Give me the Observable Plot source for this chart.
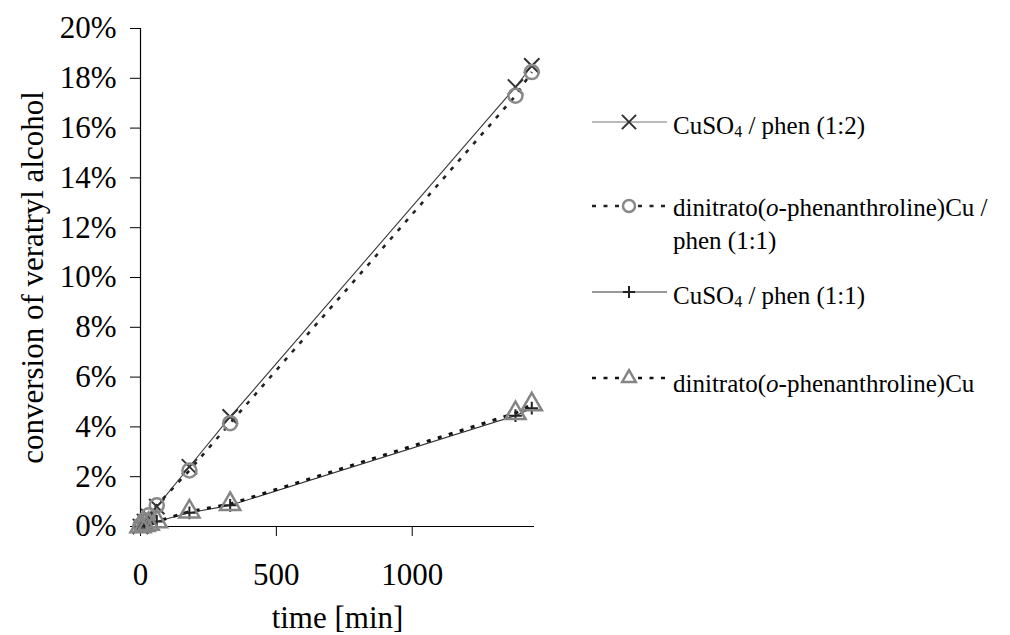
<!DOCTYPE html>
<html>
<head>
<meta charset="utf-8">
<script src="https://cdn.jsdelivr.net/npm/d3@7"></script>
<script src="https://cdn.jsdelivr.net/npm/@observablehq/plot@0.6"></script>
<style>
  html, body { margin: 0; padding: 0; background: #fff; }
  #chart { width: 1010px; height: 635px; }
</style>
</head>
<body>
<div id="chart"></div>
<script>
// ---- data ----
const times = [0, 15, 30, 60, 180, 330, 1380, 1440];           // min
const cuso4Phen12 = [0, 0.2, 0.4, 0.8, 2.4, 4.4, 17.65, 18.5];   // %
const dinitratoPhen11 = [0.05, 0.25, 0.45, 0.85, 2.25, 4.15, 17.3, 18.25];
const cuso4Phen11 = [0, 0.05, 0.1, 0.2, 0.55, 0.85, 4.45, 4.75];
const dinitrato = [0, 0.05, 0.1, 0.2, 0.6, 0.9, 4.55, 4.9];
const seriesNames = [
  "CuSO4 / phen (1:2)",
  "dinitrato(o-phenanthroline)Cu / phen (1:1)",
  "CuSO4 / phen (1:1)",
  "dinitrato(o-phenanthroline)Cu"
];
const xTicks = [0, 500, 1000];
const yTicks = [0, 0.02, 0.04, 0.06, 0.08, 0.10, 0.12, 0.14, 0.16, 0.18, 0.20];
const xTitle = "time [min]";
const yTitle = "conversion of veratryl alcohol";

// ---- styles ----
const seriesValues = [cuso4Phen12, dinitratoPhen11, cuso4Phen11, dinitrato];
const styles = [
  {symbol: "times",    r: 7,   stroke: "#333", sw: 2,   line: "#3a3a3a", lw: 1.1, legLine: "#777", dash: null, lr: 6.5},
  {symbol: "circle",   r: 7,   stroke: "#8a8a8a", sw: 2.5, line: "#222", lw: 2.6, legLine: "#222", dash: "4,7.5", lr: 6},
  {symbol: "plus",     r: 4.2, stroke: "#222", sw: 2,   line: "#333", lw: 1.1, legLine: "#333", dash: null, lr: 4},
  {symbol: "triangle", r: 7.5, stroke: "#858585", sw: 2.5, line: "#111", lw: 3, legLine: "#111", dash: "4,7.5", lr: 6.5}
];

const series = seriesValues.map((vals, i) =>
  times.map((t, j) => ({t, v: vals[j] / 100, name: seriesNames[i]}))
);

const font = "'Liberation Serif', 'Times New Roman', Times, serif";

const lineMarks = series.map((data, i) => Plot.line(data, {
  x: "t", y: "v",
  stroke: styles[i].line, strokeWidth: styles[i].lw,
  strokeDasharray: styles[i].dash ?? undefined,
  strokeLinecap: "butt"
}));
const dotMarks = series.map((data, i) => Plot.dot(data, {
  x: "t", y: "v",
  symbol: styles[i].symbol, r: styles[i].r,
  stroke: styles[i].stroke, strokeWidth: styles[i].sw, fill: "none"
}));

const plot = Plot.plot({
  width: 1010,
  height: 635,
  marginLeft: 140,
  marginTop: 28,
  marginBottom: 109,
  marginRight: 476,
  style: {fontFamily: font, fontSize: "31px", color: "#000", background: "#fff"},
  x: {domain: [0, 1450]},
  y: {domain: [0, 0.2]},
  marks: [
    Plot.axisX({ticks: xTicks, tickSize: 10, tickPadding: 26, label: null, tickFormat: d => String(d)}),
    Plot.axisY({ticks: yTicks, tickSize: 10, tickPadding: 14, label: null, tickFormat: d3.format(".0%")}),
    Plot.ruleY([0], {stroke: "#000", strokeWidth: 1.2}),
    Plot.ruleX([0], {stroke: "#000", strokeWidth: 1.2}),
    lineMarks[0], lineMarks[1], lineMarks[2], lineMarks[3],
    dotMarks[0], dotMarks[1], dotMarks[2], dotMarks[3],
    Plot.text([xTitle], {frameAnchor: "bottom", lineAnchor: "bottom", textAnchor: "middle", dy: 101, fontSize: 31, fill: "#000"}),
    Plot.text([yTitle], {frameAnchor: "left", textAnchor: "middle", rotate: -90, dx: -107, fontSize: 31, fill: "#000"})
  ]
});
document.getElementById("chart").appendChild(plot);

// ---- legend (drawn into the same svg, on the right) ----
const legendRows = [
  {lineY: 122, base: 134},
  {lineY: 206, base: 216},
  {lineY: 292, base: 304},
  {lineY: 378, base: 392}
];
const symbolTypes = {times: d3.symbolTimes, circle: d3.symbolCircle, plus: d3.symbolPlus, triangle: d3.symbolTriangle2};
const svg = d3.select(plot);
const lg = svg.append("g")
  .style("font-family", font)
  .style("font-size", "25px")
  .attr("text-anchor", "start")
  .attr("fill", "#000");

function splitLines(name) {
  if (name.length > 35) {
    const k = name.indexOf(" / ");
    return [name.slice(0, k + 2), name.slice(k + 3)];
  }
  return [name];
}
function writeLine(textEl, str) {
  const parts = str.split(/(CuSO4|\(o-)/);
  let pendingDy = 0;
  const add = (s) => {
    const ts = textEl.append("tspan").text(s);
    if (pendingDy) { ts.attr("dy", pendingDy); pendingDy = 0; }
    return ts;
  };
  for (const p of parts) {
    if (!p) continue;
    if (p === "CuSO4") {
      add("CuSO");
      textEl.append("tspan").style("font-size", "16px").attr("dy", 3).text("4");
      pendingDy = -3;
    } else if (p === "(o-") {
      add("(");
      add("o").style("font-style", "italic");
      add("-");
    } else {
      add(p);
    }
  }
}

seriesNames.forEach((name, i) => {
  const row = legendRows[i];
  const st = styles[i];
  const g = lg.append("g");
  g.append("line")
    .attr("x1", 592).attr("x2", 667)
    .attr("y1", row.lineY).attr("y2", row.lineY)
    .attr("stroke", st.legLine).attr("stroke-width", st.dash ? 2.4 : 1.2)
    .attr("stroke-dasharray", st.dash);
  if (st.symbol === "circle") {
    g.append("circle").attr("cx", 629).attr("cy", row.lineY).attr("r", st.lr)
      .attr("fill", "#fff").attr("stroke", st.stroke).attr("stroke-width", st.sw);
  } else {
    g.append("path")
      .attr("transform", `translate(629,${row.lineY})`)
      .attr("d", d3.symbol(symbolTypes[st.symbol], st.lr * st.lr * Math.PI)())
      .attr("fill", st.symbol === "triangle" ? "#fff" : "none")
      .attr("stroke", st.stroke).attr("stroke-width", st.sw);
  }
  splitLines(name).forEach((ln, k) => {
    const t = g.append("text")
      .attr("x", 673).attr("y", row.base + k * 33)
      .attr("text-anchor", "start")
      .style("font-family", font).style("font-size", "25px");
    writeLine(t, ln);
  });
});
</script>
</body>
</html>
